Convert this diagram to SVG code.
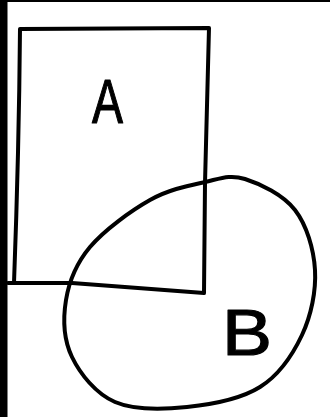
<svg xmlns="http://www.w3.org/2000/svg" width="330" height="417" viewBox="0 0 330 417">
  <style>
    .ink { fill: none; stroke: #000; stroke-width: 4; stroke-linecap: round; stroke-linejoin: round; }
    .lbl { font-family: "Liberation Sans", "DejaVu Sans", sans-serif; fill: #000; stroke: #000; stroke-width: 1.2; stroke-linejoin: round; }
  </style>
  <rect x="0" y="0" width="330" height="417" fill="#fff"/>
  <rect x="0" y="0" width="330" height="2" fill="#000"/>
  <rect x="0" y="0" width="7.5" height="417" fill="#000"/>
  <g id="A">
    <path class="ink" d="M8,283 L72,283 L204,293 L205,183 L209,28 L20,29 Q19,150 14,283"/>
    <text class="lbl" x="92" y="123" font-size="63" textLength="31" lengthAdjust="spacingAndGlyphs">A</text>
  </g>
  <g id="B">
    <path class="ink" d="M245,179 C260,183.7 283.3,194.8 295,210 C306.7,225.2 313.8,249.2 315,270 C316.2,290.8 311.2,315.5 302,335 C292.8,354.5 279.2,375 260,387 C240.8,399 211.2,404.5 187,407 C162.8,409.5 134.2,410.3 115,402 C95.8,393.7 80.2,374 72,357 C63.8,340 63,318.3 66,300 C69,281.7 76,263.7 90,247 C104,230.3 130.8,210.8 150,200 C169.2,189.2 189.2,185.5 205,182 C220.8,178.5 230,174.3 245,179 Z"/>
    <text class="lbl" x="222" y="355" font-size="65" textLength="50" lengthAdjust="spacingAndGlyphs">B</text>
  </g>
  <g id="connectors"/>
</svg>
